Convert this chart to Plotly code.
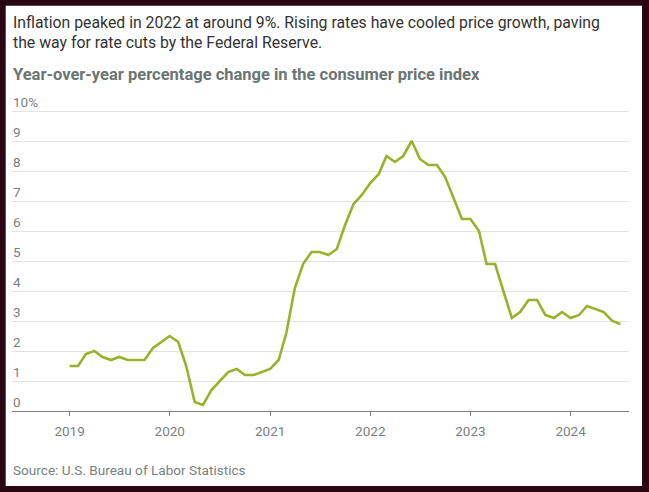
import pandas as pd
import plotly.graph_objects as go

# monthly year-over-year CPI change, Jan 2019 - Jul 2024
cpi_2019 = [1.5, 1.5, 1.9, 2.0, 1.8, 1.7, 1.8, 1.7, 1.7, 1.7, 2.1, 2.3]
cpi_2020 = [2.5, 2.3, 1.5, 0.3, 0.2, 0.7, 1.0, 1.3, 1.4, 1.2, 1.2, 1.3]
cpi_2021 = [1.4, 1.7, 2.6, 4.1, 4.9, 5.3, 5.3, 5.2, 5.4, 6.2, 6.9, 7.2]
cpi_2022 = [7.6, 7.9, 8.5, 8.3, 8.5, 9.0, 8.4, 8.2, 8.2, 7.8, 7.1, 6.4]
cpi_2023 = [6.4, 6.0, 4.9, 4.9, 4.0, 3.1, 3.3, 3.7, 3.7, 3.2, 3.1, 3.3]
cpi_2024 = [3.1, 3.2, 3.5, 3.4, 3.3, 3.0, 2.9]

cpi = cpi_2019 + cpi_2020 + cpi_2021 + cpi_2022 + cpi_2023 + cpi_2024
months = pd.date_range("2019-01-01", periods=len(cpi), freq="MS")

year_ticks = ["2019-01-01", "2020-01-01", "2021-01-01", "2022-01-01", "2023-01-01", "2024-01-01"]
year_labels = ["2019", "2020", "2021", "2022", "2023", "2024"]
y_ticks = [0, 1, 2, 3, 4, 5, 6, 7, 8, 9, 10]
y_labels = ["0", "1", "2", "3", "4", "5", "6", "7", "8", "9", "10%"]

FONT = "Roboto"
GRAY = "#7b7f80"

fig = go.Figure()
fig.add_trace(go.Scatter(
    x=months, y=cpi, mode="lines",
    line=dict(color="#98b32b", width=2.6),
    hoverinfo="skip",
))

fig.update_layout(
    width=649, height=492,
    margin=dict(l=12, r=20, t=108, b=81),
    paper_bgcolor="#2a0512",
    plot_bgcolor="white",
    showlegend=False,
    font=dict(family=FONT, color=GRAY),
)

fig.update_xaxes(
    range=["2018-06-05", "2024-08-01"],
    tickvals=year_ticks, ticktext=year_labels,
    showgrid=False, zeroline=False,
    showline=True, linecolor=GRAY, linewidth=1.3,
    ticks="outside", ticklen=4, tickcolor=GRAY, tickwidth=1,
    tickfont=dict(size=13.5, color=GRAY),
    ticklabelstandoff=4,
)
fig.update_yaxes(
    range=[0, 10.1],
    tickvals=y_ticks,
    showgrid=True, gridcolor="#e3e3e3", gridwidth=1,
    zeroline=False, showline=False, showticklabels=False,
)

# y labels sit just above their gridlines at the left edge
for v, lab in zip(y_ticks, y_labels):
    fig.add_annotation(text=lab, xref="paper", yref="y", x=0, y=v,
                       xanchor="left", yanchor="middle", yshift=9.5, xshift=-1,
                       showarrow=False, font=dict(family=FONT, size=13.5, color=GRAY))

# white card inside the dark frame
fig.add_shape(type="rect", xref="paper", yref="paper",
              x0=-0.0102, x1=1.0211, y0=-0.2475, y1=1.3376,
              fillcolor="white", line=dict(width=0), layer="below")

fig.add_annotation(text="Inflation peaked in 2022 at around 9%. Rising rates have cooled price growth, paving",
                   xref="paper", yref="paper", x=0, y=1.2830, xanchor="left", yanchor="middle", xshift=-1,
                   showarrow=False, font=dict(family=FONT, size=15.8, color="#333333"))
fig.add_annotation(text="the way for rate cuts by the Federal Reserve.",
                   xref="paper", yref="paper", x=0, y=1.2150, xanchor="left", yanchor="middle", xshift=-1,
                   showarrow=False, font=dict(family=FONT, size=15.8, color="#333333"))
fig.add_annotation(text="<b>Year-over-year percentage change in the consumer price index</b>",
                   xref="paper", yref="paper", x=0, y=1.1122, xanchor="left", yanchor="middle", xshift=-1,
                   showarrow=False, font=dict(family=FONT, size=16.5, color="#6b7574"))
fig.add_annotation(text="Source: U.S. Bureau of Labor Statistics",
                   xref="paper", yref="paper", x=0, y=-0.1947, xanchor="left", yanchor="middle", xshift=-1,
                   showarrow=False, font=dict(family=FONT, size=13.6, color=GRAY))

# the page is photographed from its top-left corner, so drop the default body margin
fig.write_html("out.html", config={"displayModeBar": False},
               post_script="document.body.style.margin='0';")
